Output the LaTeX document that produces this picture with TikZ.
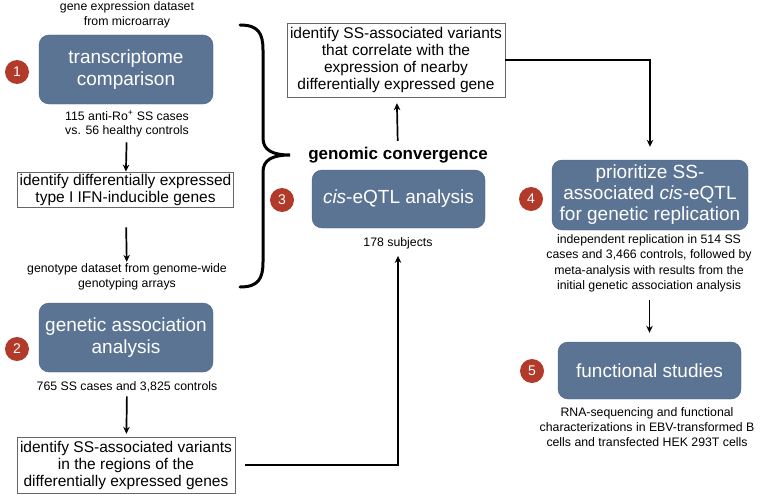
\documentclass[tikz,border=0pt]{standalone}
\usepackage{fontspec}
\setmainfont{Liberation Sans}
\usetikzlibrary{arrows.meta, positioning}
\definecolor{stepblue}{HTML}{5C7493}
\definecolor{stepedge}{HTML}{4A6180}
\definecolor{numred}{HTML}{B23A2A}

\begin{document}
\begin{tikzpicture}[x = 1pt, y = -1pt,
	stage/.style = {draw = stepedge, fill = stepblue, rounded corners = 10pt, text = white, align = center, font = \fontsize{19}{22.5}\selectfont},
	result/.style = {draw = black!60, fill = white, align = center, inner sep = 2pt, font = \fontsize{15.5}{17}\selectfont},
	note/.style = {align = center, inner sep = 1pt, font = \fontsize{12.3}{14.5}\selectfont},
	num/.style = {circle, fill = numred, text = white, minimum size = 24pt, inner sep = 0pt, font = \fontsize{14}{14}\selectfont},
	flow/.style = {line width = 1.7pt, -{Stealth[length = 7pt, width = 6.5pt]}}]
	\useasboundingbox (0, 0) rectangle (760, 495);
	% left column
	\node [note] (expr) at (127, 15) {gene expression dataset\\from microarray};
	\node [stage, minimum width = 174pt, minimum height = 69pt] (trans) at (126, 69.5) {transcriptome\\comparison};
	\node [num] (n1) at (17, 72) {1};
	\node [note] (cohort1) at (127, 124) {115 anti-Ro\textsuperscript{+} SS cases\\vs. 56 healthy controls};
	\node [result, minimum width = 215pt, minimum height = 32pt] (diffgenes) at (125.5, 189.5) {identify differentially expressed\\type I IFN-inducible genes};
	\node [note] (geno) at (127, 277) {genotype dataset from genome-wide\\genotyping arrays};
	\node [stage, minimum width = 174pt, minimum height = 69pt] (assoc) at (126, 337.5) {genetic association\\analysis};
	\node [num] (n2) at (17, 349) {2};
	\node [note] (cohort2) at (127, 387) {765 SS cases and 3,825 controls};
	\node [result, minimum width = 218pt, minimum height = 56pt] (regions) at (126, 465) {identify SS-associated variants\\in the regions of the\\differentially expressed genes};
	% middle column
	\node [result, minimum width = 218pt, minimum height = 74pt] (correl) at (396, 60) {identify SS-associated variants\\that correlate with the\\expression of nearby\\differentially expressed gene};
	\node [font = \fontsize{17}{18}\selectfont\bfseries, inner sep = 1pt] (conv) at (398, 155) {genomic convergence};
	\node [stage, minimum width = 173pt, minimum height = 58pt] (eqtl) at (398.5, 199) {\textit{cis}-eQTL analysis};
	\node [num] (n3) at (282, 200) {3};
	\node [note] (subj) at (398, 243) {178 subjects};
	% right column
	\node [stage, minimum width = 196pt, minimum height = 70pt, inner sep = 2pt, font = \fontsize{19}{21}\selectfont] (prio) at (650, 195) {prioritize SS-\\associated \textit{cis}-eQTL\\for genetic replication};
	\node [num] (n4) at (531, 199) {4};
	\node [note, font = \fontsize{12.3}{15.5}\selectfont] (repl) at (649, 263.5) {independent replication in 514 SS\\cases and 3,466 controls, followed by\\meta-analysis with results from the\\initial genetic association analysis};
	\node [stage, minimum width = 183pt, minimum height = 57pt] (func) at (649.5, 370.5) {functional studies};
	\node [num] (n5) at (532, 371) {5};
	\node [note, font = \fontsize{12.3}{15}\selectfont] (rnaseq) at (647, 427) {RNA-sequencing and functional\\characterizations in EBV-transformed B\\cells and transfected HEK 293T cells};
	% brace
	\draw [line width = 3pt, line cap = round] (240, 25) .. controls (258, 25) and (263, 33) .. (263, 50) -- (263, 138) .. controls (263, 150) and (272, 155) .. (290, 155) .. controls (272, 155) and (263, 160) .. (263, 172) -- (263, 262) .. controls (263, 279) and (258, 287) .. (240, 287);
	% connectors
	\draw [flow, shorten < = 4pt] (cohort1) -- (diffgenes);
	\draw [flow, shorten < = 20pt, shorten > = 1pt] (diffgenes) -- (geno);
	\draw [flow, shorten < = 3pt, shorten > = 3pt] (cohort2) -- (regions);
	\draw [flow, shorten < = 10pt, shorten > = 6pt] (regions.east) -| (subj.south);
	\draw [flow, shorten < = 5pt, shorten > = 6pt] (conv) -- (correl);
	\draw [flow, shorten > = 13pt] (correl.east) -| (prio.north);
	\draw [flow, shorten < = 6pt, shorten > = 9pt] (repl.south -| func.north) -- (func.north);
\end{tikzpicture}
\end{document}
